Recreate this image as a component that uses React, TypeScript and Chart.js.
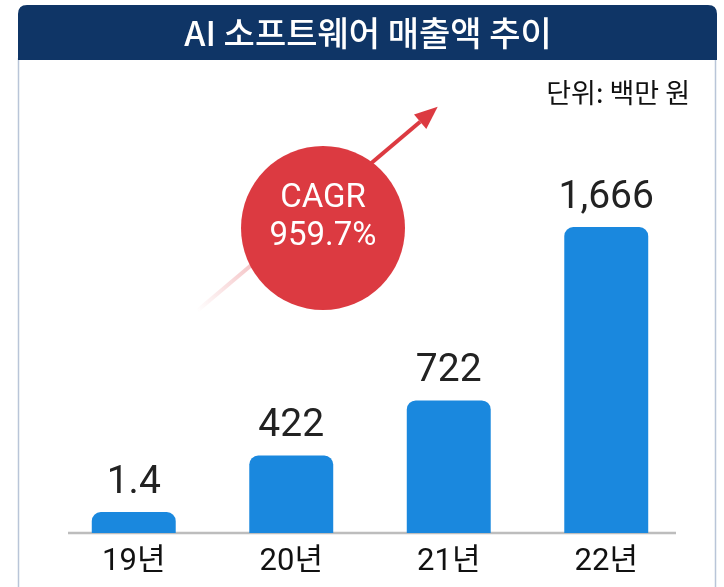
import React, { useEffect, useRef } from "react";
import { Chart, registerables } from "chart.js";

Chart.register(...registerables);

const TITLE = "AI 소프트웨어 매출액 추이";
const UNIT = "단위: 백만 원";
const categories = ["19년", "20년", "21년", "22년"];
const sales = [1.4, 422, 722, 1666];
const valueLabels = ["1.4", "422", "722", "1,666"];
const cagrLines = ["CAGR", "959.7%"];

const FONT = "Roboto, 'Noto Sans CJK KR', sans-serif";
const KFONT = "'Noto Sans CJK KR', Roboto, sans-serif";
const BLUE = "#1a88de";
const RED = "#dc3a41";
const NAVY = "#0f3566";

const decorPlugin = {
  id: "decor",
  beforeDraw(chart: any) {
    const ctx = chart.ctx as CanvasRenderingContext2D;
    const W = chart.width;
    const H = chart.height;
    ctx.save();
    ctx.fillStyle = "#ffffff";
    ctx.fillRect(0, 0, W, H);

    // side borders
    ctx.strokeStyle = "#b9c5d8";
    ctx.lineWidth = 1.5;
    ctx.beginPath();
    ctx.moveTo(18.5, 58);
    ctx.lineTo(18.5, H);
    ctx.moveTo(715.5, 58);
    ctx.lineTo(715.5, H);
    ctx.stroke();

    // title bar
    const x0 = 18, x1 = 717, y0 = 5, y1 = 60, r = 9;
    ctx.fillStyle = NAVY;
    ctx.beginPath();
    ctx.moveTo(x0, y1);
    ctx.lineTo(x0, y0 + r);
    ctx.quadraticCurveTo(x0, y0, x0 + r, y0);
    ctx.lineTo(x1 - r, y0);
    ctx.quadraticCurveTo(x1, y0, x1, y0 + r);
    ctx.lineTo(x1, y1);
    ctx.closePath();
    ctx.fill();

    ctx.fillStyle = "#ffffff";
    ctx.font = `500 34px ${KFONT}`;
    ctx.textAlign = "center";
    ctx.textBaseline = "middle";
    ctx.fillText(TITLE, 368, 33);

    // unit
    ctx.fillStyle = "#111111";
    ctx.font = `400 27px ${KFONT}`;
    ctx.textAlign = "right";
    ctx.textBaseline = "middle";
    ctx.fillText(UNIT, 690, 93);

    // baseline
    ctx.strokeStyle = "#bdbdbd";
    ctx.lineWidth = 2.5;
    ctx.beginPath();
    ctx.moveTo(68, 533);
    ctx.lineTo(676, 533);
    ctx.stroke();

    // arrow line (faded tail)
    const sx = 197, sy = 311, tx = 437.7, ty = 106.8;
    const grad = ctx.createLinearGradient(sx, sy, 300, 224);
    grad.addColorStop(0, "rgba(220,58,65,0)");
    grad.addColorStop(1, "rgba(220,58,65,0.55)");
    ctx.strokeStyle = grad;
    ctx.lineWidth = 4;
    ctx.beginPath();
    ctx.moveTo(sx, sy);
    ctx.lineTo(300, 224);
    ctx.stroke();

    const ang = Math.atan2(ty - sy, tx - sx);
    const headLen = 23;
    const bx = tx - headLen * Math.cos(ang);
    const by = ty - headLen * Math.sin(ang);
    ctx.strokeStyle = RED;
    ctx.beginPath();
    ctx.moveTo(330, 198);
    ctx.lineTo(bx, by);
    ctx.stroke();
    ctx.fillStyle = RED;
    const hw = 9.5;
    ctx.beginPath();
    ctx.moveTo(tx, ty);
    ctx.lineTo(bx + hw * Math.sin(ang), by - hw * Math.cos(ang));
    ctx.lineTo(bx - hw * Math.sin(ang), by + hw * Math.cos(ang));
    ctx.closePath();
    ctx.fill();

    // circle
    ctx.fillStyle = RED;
    ctx.beginPath();
    ctx.arc(323, 228, 82, 0, Math.PI * 2);
    ctx.fill();
    ctx.fillStyle = "#ffffff";
    ctx.font = `400 33px ${FONT}`;
    ctx.textAlign = "center";
    ctx.textBaseline = "middle";
    ctx.fillText(cagrLines[0], 323, 199);
    ctx.fillText(cagrLines[1], 323, 237);
    ctx.restore();
  },
  afterDatasetsDraw(chart: any) {
    const ctx = chart.ctx as CanvasRenderingContext2D;
    const meta = chart.getDatasetMeta(0);
    ctx.save();
    ctx.fillStyle = "#222222";
    ctx.font = `400 39px ${FONT}`;
    ctx.textAlign = "center";
    ctx.textBaseline = "alphabetic";
    meta.data.forEach((bar: any, i: number) => {
      ctx.fillText(valueLabels[i], bar.x, bar.y - 19);
    });
    ctx.restore();
  },
};

export default function App() {
  const ref = useRef<HTMLCanvasElement>(null);
  useEffect(() => {
    if (!ref.current) return;
    const chart = new Chart(ref.current, {
      type: "bar",
      data: {
        labels: categories,
        datasets: [
          {
            data: sales,
            backgroundColor: BLUE,
            borderRadius: 9,
            borderSkipped: "start",
            categoryPercentage: 1,
            barPercentage: 0.533,
            minBarLength: 21,
          },
        ],
      },
      options: {
        responsive: false,
        animation: false,
        devicePixelRatio: 1,
        layout: { padding: { left: 55, right: 39, top: 227, bottom: 7 } },
        plugins: {
          legend: { display: false },
          tooltip: { enabled: false },
          title: { display: false },
        },
        scales: {
          x: {
            grid: { display: false, drawTicks: false },
            border: { display: false },
            ticks: {
              color: "#111111",
              font: { family: FONT, size: 31 },
              padding: 11,
            },
            afterFit(scale: any) {
              scale.height = 47;
            },
          },
          y: {
            display: false,
            min: 0,
            max: 1666,
          },
        },
      },
      plugins: [decorPlugin],
    });
    return () => chart.destroy();
  }, []);
  return (
    <div style={{ position: "absolute", left: 0, top: 0, width: 724, height: 587 }}>
      <canvas ref={ref} width={724} height={587} style={{ display: "block" }} />
    </div>
  );
}
